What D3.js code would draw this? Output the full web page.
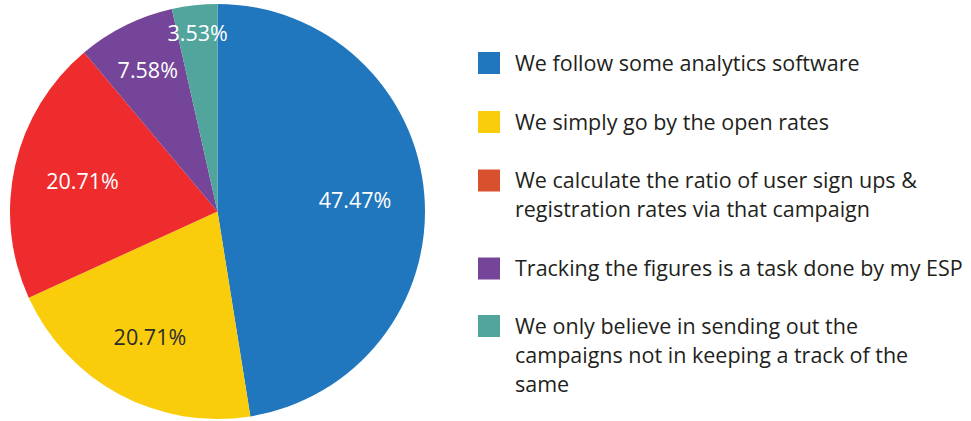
<!DOCTYPE html>
<html>
<head>
<meta charset="utf-8">
<script src="https://cdn.jsdelivr.net/npm/d3@7"></script>
<style>
  body { margin: 0; background: #fff; }
  text { font-family: "Open Sans", sans-serif; }
</style>
</head>
<body>
<div id="chart"></div>
<script>
// categories and their share (%)
var categories = [
  "We follow some analytics software",
  "We simply go by the open rates",
  "We calculate the ratio of user sign ups & registration rates via that campaign",
  "Tracking the figures is a task done by my ESP",
  "We only believe in sending out the campaigns not in keeping a track of the same"
];
var values = [47.47, 20.71, 20.71, 7.58, 3.53];

// legend text broken into lines like the picture
var legendLines = [
  ["We follow some analytics software"],
  ["We simply go by the open rates"],
  ["We calculate the ratio of user sign ups &", "registration rates via that campaign"],
  ["Tracking the figures is a task done by my ESP"],
  ["We only believe in sending out the", "campaigns not in keeping a track of the", "same"]
];

var sliceColors = ["#2177bd", "#f9cd0c", "#ee2b2d", "#744598", "#52a59c"];
var legendColors = ["#2177bd", "#f9cd0c", "#d9502f", "#744598", "#52a59c"];
var labelColors = ["#fff", "#2b2b2b", "#fff", "#fff", "#fff"];
// how far out each % label sits (fraction of the radius)
var labelRadius = [0.665, 0.69, 0.667, 0.757, 0.862];

var width = 971, height = 421;
var cx = 217.5, cy = 211.5, radius = 207.5;

var svg = d3.select("#chart")
  .append("svg")
  .attr("width", width)
  .attr("height", height);

var pie = d3.pie().sort(null).value(function (d) { return d; });
var arcs = pie(values);

var arc = d3.arc().innerRadius(0).outerRadius(radius);

var g = svg.append("g")
  .attr("transform", "translate(" + cx + "," + cy + ")");

g.selectAll(".slice")
  .data(arcs)
  .enter().append("path")
  .attr("class", "slice")
  .attr("d", arc)
  .attr("fill", function (d, i) { return sliceColors[i]; });

g.selectAll(".pct")
  .data(arcs)
  .enter().append("text")
  .attr("class", "pct")
  .attr("transform", function (d, i) {
    var r = radius * labelRadius[i];
    var c = d3.arc().innerRadius(r).outerRadius(r).centroid(d);
    return "translate(" + c[0] + "," + c[1] + ")";
  })
  .attr("text-anchor", "middle")
  .attr("dy", "0.36em")
  .attr("font-size", 21.5)
  .attr("fill", function (d, i) { return labelColors[i]; })
  .text(function (d) { return d.data.toFixed(2) + "%"; });

// legend
var rowTops = [52, 111, 169.5, 257.5, 315];

var legend = svg.selectAll(".legend")
  .data(categories)
  .enter().append("g")
  .attr("class", "legend")
  .attr("transform", function (d, i) { return "translate(478," + rowTops[i] + ")"; });

legend.append("rect")
  .attr("width", 22)
  .attr("height", 22)
  .attr("fill", function (d, i) { return legendColors[i]; });

legend.each(function (d, i) {
  var t = d3.select(this).append("text")
    .attr("x", 37)
    .attr("y", 18.5)
    .attr("font-size", 21.5)
    .attr("fill", "#231f20");
  legendLines[i].forEach(function (line, j) {
    t.append("tspan")
      .attr("x", 37)
      .attr("dy", j === 0 ? 0 : 29)
      .text(line);
  });
});
</script>
</body>
</html>
